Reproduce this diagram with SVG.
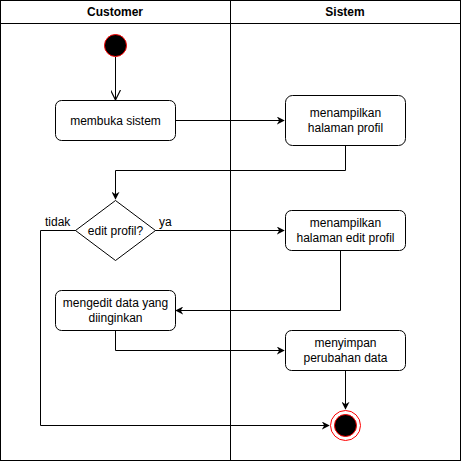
<svg xmlns="http://www.w3.org/2000/svg" width="461" height="461" viewBox="0 0 461 461">
<style>
.lane{fill:none;stroke:#000;stroke-width:1;}
.hdr{font-family:"Liberation Sans",Arial,sans-serif;font-size:12px;font-weight:bold;fill:#000;text-anchor:middle;}
.box{fill:#fff;stroke:#000;stroke-width:1;}
.t{font-family:"Liberation Sans",Arial,sans-serif;font-size:12px;fill:#000;text-anchor:middle;}
.lbl{font-family:"Liberation Sans",Arial,sans-serif;font-size:12px;fill:#000;}
.edge{fill:none;stroke:#000;stroke-width:1;}
</style>
<defs>
<marker id="fill" viewBox="0 0 10 10" refX="9" refY="5" markerWidth="8" markerHeight="8" markerUnits="userSpaceOnUse" orient="auto">
<path d="M0,0 L10,5 L0,10 L3,5 Z" fill="#000"/>
</marker>
<marker id="open" viewBox="0 0 10 10" refX="9" refY="5" markerWidth="10" markerHeight="10" markerUnits="userSpaceOnUse" orient="auto">
<path d="M0,0 L10,5 L0,10" fill="none" stroke="#000" stroke-width="1.2"/>
</marker>
</defs>
<g id="pool">
<rect class="lane" x="0.5" y="0.5" width="460" height="460"/>
<line class="lane" x1="0.5" y1="23.5" x2="460.5" y2="23.5"/>
<line class="lane" x1="230.5" y1="0.5" x2="230.5" y2="460.5"/>
<text class="hdr" x="115" y="16">Customer</text>
<text class="hdr" x="345" y="16">Sistem</text>
</g>
<g id="connectors">
<path class="edge" d="M115.5,57 L115.5,99" marker-end="url(#open)"/>
<path class="edge" d="M175,120.5 L284,120.5" marker-end="url(#fill)"/>
<path class="edge" d="M345.5,145 L345.5,170.5 L115.5,170.5 L115.5,199" marker-end="url(#fill)"/>
<path class="edge" d="M155,230.5 L284,230.5" marker-end="url(#fill)"/>
<path class="edge" d="M340.5,250 L340.5,310.5 L176,310.5" marker-end="url(#fill)"/>
<path class="edge" d="M115.5,330 L115.5,350.5 L284,350.5" marker-end="url(#fill)"/>
<path class="edge" d="M345.5,370 L345.5,409" marker-end="url(#fill)"/>
<path class="edge" d="M76,230.5 L40.5,230.5 L40.5,425.5 L329,425.5" marker-end="url(#fill)"/>
<text class="lbl" x="45" y="226">tidak</text>
<text class="lbl" x="159" y="226">ya</text>
</g>
<g id="start">
<circle cx="115.5" cy="45.5" r="11" fill="#000" stroke="#ff0000" stroke-width="1"/>
</g>
<g id="membuka">
<rect class="box" x="55.5" y="100.5" width="120" height="40" rx="6"/>
<text class="t" x="115.5" y="124.5">membuka sistem</text>
</g>
<g id="tampilProfil">
<rect class="box" x="285.5" y="95.5" width="120" height="50" rx="7"/>
<text class="t" x="345.5" y="117">menampilkan</text>
<text class="t" x="345.5" y="132">halaman profil</text>
</g>
<g id="decision">
<path class="box" d="M115.5,200.5 L155.5,230.5 L115.5,260.5 L75.5,230.5 Z"/>
<text class="t" x="115.5" y="234.5">edit profil?</text>
</g>
<g id="tampilEdit">
<rect class="box" x="285.5" y="210.5" width="120" height="40" rx="6"/>
<text class="t" x="345.5" y="227">menampilkan</text>
<text class="t" x="345.5" y="242">halaman edit profil</text>
</g>
<g id="mengedit">
<rect class="box" x="55.5" y="290.5" width="120" height="40" rx="6"/>
<text class="t" x="115.5" y="307">mengedit data yang</text>
<text class="t" x="115.5" y="322">diinginkan</text>
</g>
<g id="menyimpan">
<rect class="box" x="285.5" y="330.5" width="120" height="40" rx="6"/>
<text class="t" x="345.5" y="347">menyimpan</text>
<text class="t" x="345.5" y="362">perubahan data</text>
</g>
<g id="end">
<circle cx="345.5" cy="425.5" r="15" fill="#fff" stroke="#ff0000" stroke-width="1"/>
<circle cx="345.5" cy="425.5" r="11" fill="#000" stroke="#ff0000" stroke-width="1"/>
</g>
</svg>
